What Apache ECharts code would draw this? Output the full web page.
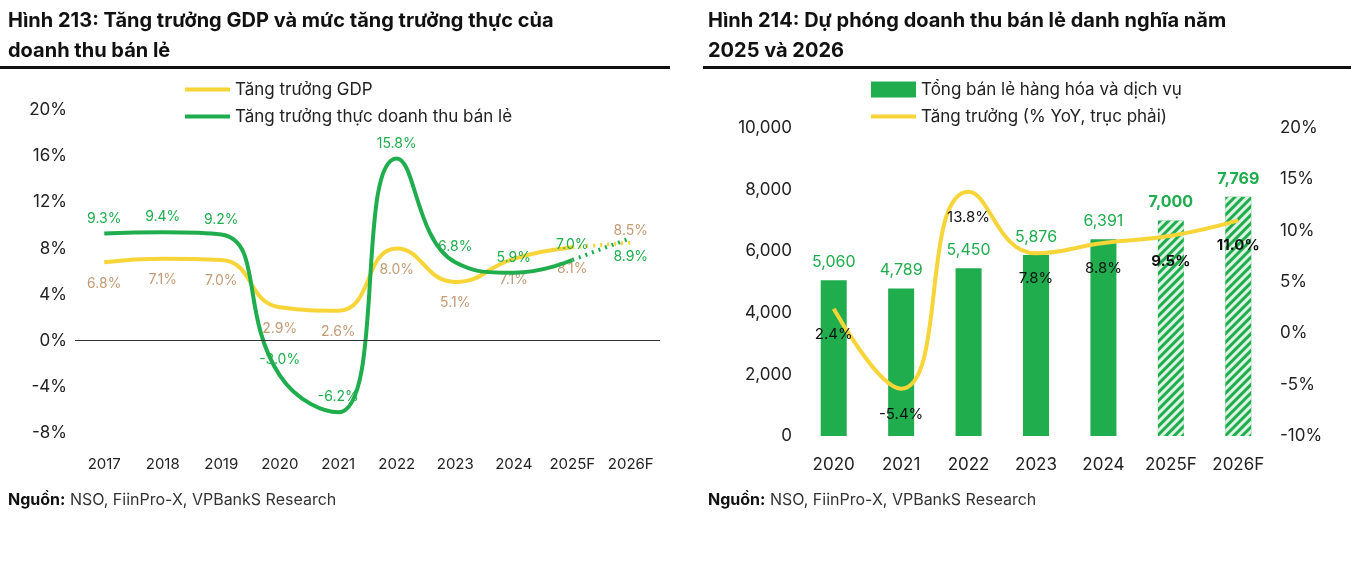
<!DOCTYPE html><html><head><meta charset="utf-8">
<script src="https://cdn.jsdelivr.net/npm/echarts@6/dist/echarts.min.js"></script>
<style>body{margin:0;background:#fff}#c{width:1351px;height:578px}</style></head><body><div id="c"></div>
<script>
const years1=['2017','2018','2019','2020','2021','2022','2023','2024','2025F','2026F'];
const gdp=[6.8,7.1,7.0,2.9,2.6,8.0,5.1,7.1,8.1,8.5];
const retailReal=[9.3,9.4,9.2,-3.0,-6.2,15.8,6.8,5.9,7.0,8.9];
const years2=['2020','2021','2022','2023','2024','2025F','2026F'];
const retail=[5060,4789,5450,5876,6391,7000,7769];
const growth=[2.4,-5.4,13.8,7.8,8.8,9.5,11.0];

const F='Inter, "Noto Sans", sans-serif';
const GREEN='#1fad4d', YEL='#f7d437', TAN='#c49a74';
const chart=echarts.init(document.getElementById('c'));
const solid=(a,n)=>a.map((v,i)=>i<=n?v:null);
const tail=(a,n)=>a.map((v,i)=>i>=n?v:null);
const pct=v=>v.toFixed(1)+'%';
chart.setOption({
 animation:false,textStyle:{fontFamily:F},
 graphic:[
  {type:'text',left:8,top:6,style:{text:'Hình 213: Tăng trưởng GDP và mức tăng trưởng thực của\ndoanh thu bán lẻ',font:'bold 20px '+F,fill:'#111',lineHeight:30}},
  {type:'text',left:708,top:6,style:{text:'Hình 214: Dự phóng doanh thu bán lẻ danh nghĩa năm\n2025 và 2026',font:'bold 20px '+F,fill:'#111',lineHeight:30}},
  {type:'rect',shape:{x:0,y:66,width:670,height:3},style:{fill:'#111'}},
  {type:'rect',shape:{x:703,y:66,width:648,height:3},style:{fill:'#111'}},
  {type:'text',left:8,top:492,style:{text:'{b|Nguồn:} NSO, FiinPro-X, VPBankS Research',rich:{b:{font:'bold 16px '+F,fill:'#111'}},font:'16px '+F,fill:'#333'}},
  {type:'text',left:708,top:492,style:{text:'{b|Nguồn:} NSO, FiinPro-X, VPBankS Research',rich:{b:{font:'bold 16px '+F,fill:'#111'}},font:'16px '+F,fill:'#333'}}
 ],
 legend:[
  {left:180,top:76,orient:'vertical',itemGap:10,itemWidth:45,itemHeight:4,textStyle:{fontSize:17,color:'#222'},data:[{name:'Tăng trưởng GDP',icon:'rect'},{name:'Tăng trưởng thực doanh thu bán lẻ',icon:'rect'}]},
  {left:866,top:76,orient:'vertical',itemGap:10,itemWidth:45,itemHeight:16,textStyle:{fontSize:17,color:'#222'},data:[{name:'Tổng bán lẻ hàng hóa và dịch vụ',icon:'rect'},{name:'Tăng trưởng (% YoY, trục phải)',icon:'path://M0,7h45v4h-45z'}]}
 ],
 grid:[
  {left:75,right:1351-660,top:110,height:323},
  {left:800,right:1351-1272,top:128,height:308}
 ],
 xAxis:[
  {gridIndex:0,type:'category',data:years1,axisLine:{show:false},axisTick:{show:false},axisLabel:{interval:0,fontSize:15,color:'#222',margin:24}},
  {gridIndex:1,type:'category',data:years2,axisLine:{show:false},axisTick:{show:false},axisLabel:{interval:0,fontSize:17,color:'#222',margin:20}}
 ],
 yAxis:[
  {gridIndex:0,min:-8,max:20,interval:4,splitLine:{show:false},axisLabel:{fontSize:17,color:'#222',formatter:'{value}%'}},
  {gridIndex:1,min:0,max:10000,interval:2000,splitLine:{show:false},axisLabel:{fontSize:17,color:'#222',formatter:v=>v.toLocaleString('en-US')}},
  {gridIndex:1,min:-10,max:20,interval:5,position:'right',splitLine:{show:false},axisLabel:{fontSize:17,color:'#222',formatter:'{value}%'}}
 ],
 series:[
  {type:'line',name:'zero',xAxisIndex:0,yAxisIndex:0,data:[],markLine:{silent:true,symbol:'none',label:{show:false},lineStyle:{color:'#333',type:'solid',width:1},data:[{yAxis:0}]}},
  {type:'line',name:'Tăng trưởng GDP',xAxisIndex:0,yAxisIndex:0,smooth:0.5,symbol:'circle',symbolSize:0.1,showSymbol:true,data:solid(gdp,8),lineStyle:{color:YEL,width:4},itemStyle:{color:YEL},z:3,
   label:{show:true,fontSize:14,color:TAN,position:'bottom',distance:14,formatter:p=>pct(p.value)}},
  {type:'line',name:'Tăng trưởng thực doanh thu bán lẻ',xAxisIndex:0,yAxisIndex:0,smooth:0.5,symbol:'circle',symbolSize:0.1,showSymbol:true,data:solid(retailReal,8),lineStyle:{color:GREEN,width:4},itemStyle:{color:GREEN},z:4,
   label:{show:true,fontSize:14,color:GREEN,position:'top',distance:8,formatter:p=>pct(p.value)}},
  {type:'line',xAxisIndex:0,yAxisIndex:0,symbol:'circle',symbolSize:0.1,showSymbol:true,data:tail(gdp,8),lineStyle:{color:YEL,width:4,type:[2,5]},itemStyle:{color:YEL},
   label:{show:true,fontSize:14,color:TAN,position:'top',formatter:p=>p.dataIndex==9?pct(p.value):''}},
  {type:'line',xAxisIndex:0,yAxisIndex:0,symbol:'circle',symbolSize:0.1,showSymbol:true,data:tail(retailReal,8),lineStyle:{color:GREEN,width:4,type:[2,5]},itemStyle:{color:GREEN},
   label:{show:true,position:'bottom',distance:12,fontSize:14,color:GREEN,formatter:p=>p.dataIndex==9?pct(p.value):''}},
  {type:'bar',name:'Tổng bán lẻ hàng hóa và dịch vụ',xAxisIndex:1,yAxisIndex:1,barWidth:26,
   data:retail.map((v,i)=>i>=5?{value:v,itemStyle:{decal:{symbol:'rect',color:'rgba(255,255,255,0.85)',dashArrayX:[1,0],dashArrayY:[3,3],rotation:-Math.PI/4}}}:v),
   itemStyle:{color:GREEN},label:{show:true,position:'top',distance:10,fontSize:16,color:GREEN,formatter:p=>(p.dataIndex>=5?'{b|':'{n|')+p.value.toLocaleString('en-US')+'}',rich:{b:{fontWeight:'bold',fontSize:16,color:GREEN},n:{fontSize:16,color:GREEN}}}},
  {type:'line',name:'Tăng trưởng (% YoY, trục phải)',xAxisIndex:1,yAxisIndex:2,smooth:0.5,symbol:'circle',symbolSize:0.1,showSymbol:true,data:growth,lineStyle:{color:YEL,width:4},itemStyle:{color:YEL},z:5,
   label:{show:true,position:'bottom',distance:18,fontSize:15,color:'#111',formatter:p=>p.dataIndex>=5?'{b|'+pct(p.value)+'}':pct(p.value),rich:{b:{fontWeight:'bold',fontSize:15,color:'#111'}}}}
 ]
});
</script></body></html>
